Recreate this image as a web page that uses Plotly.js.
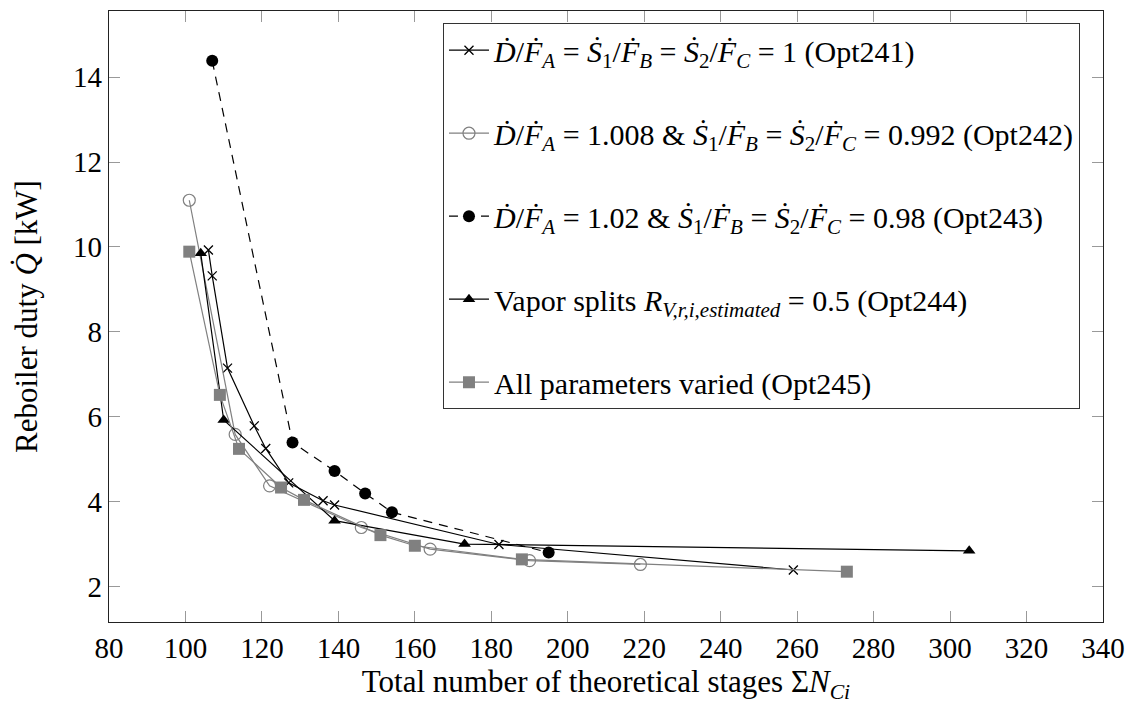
<!DOCTYPE html>
<html><head><meta charset="utf-8">
<script src="https://cdn.plot.ly/plotly-3.0.1.min.js"></script>
<style>html,body{margin:0;padding:0;background:#fff}</style>
</head><body><div id="chart" style="width:1132px;height:704px"></div>
<script>
// Opt241: D/FA = S1/FB = S2/FC = 1
const opt241_x = [106, 107, 111, 118, 121, 127, 136, 139, 182, 259];
const opt241_y = [9.93, 9.32, 7.15, 5.79, 5.26, 4.45, 4.03, 3.93, 3.00, 2.40];
// Opt242: D/FA = 1.008 & S1/FB = S2/FC = 0.992
const opt242_x = [101, 113, 122, 146, 164, 190, 219];
const opt242_y = [11.10, 5.59, 4.38, 3.40, 2.89, 2.62, 2.53];
// Opt243: D/FA = 1.02 & S1/FB = S2/FC = 0.98
const opt243_x = [107, 128, 139, 147, 154, 195];
const opt243_y = [14.38, 5.40, 4.73, 4.20, 3.76, 2.81];
// Opt244: vapor splits 0.5
const opt244_x = [104, 110, 139, 173, 305];
const opt244_y = [9.85, 5.93, 3.56, 3.01, 2.85];
// Opt245: all parameters varied
const opt245_x = [101, 109, 114, 125, 131, 151, 160, 188, 273];
const opt245_y = [9.89, 6.52, 5.25, 4.34, 4.05, 3.22, 2.97, 2.65, 2.36];

const xTickVals = [80, 100, 120, 140, 160, 180, 200, 220, 240, 260, 280, 300, 320, 340];
const yTickVals = [2, 4, 6, 8, 10, 12, 14];

const Dd = '<i>D\u0307</i>', Fd = '<i>F\u0307</i>', S1 = '<i>S\u0307</i><sub>1</sub>', S2 = '<i>S\u0307</i><sub>2</sub>';
const fA = Dd + '/' + Fd + '<sub><i>A</i></sub>';
const fB1 = S1 + '/' + Fd + '<sub><i>B</i></sub>';
const fC2 = S2 + '/' + Fd + '<sub><i>C</i></sub>';
const names = [
  fA + ' = ' + fB1 + ' = ' + fC2 + ' = 1 (Opt241)',
  fA + ' = 1.008 &amp; ' + fB1 + ' = ' + fC2 + ' = 0.992 (Opt242)',
  fA + ' = 1.02 &amp; ' + fB1 + ' = ' + fC2 + ' = 0.98 (Opt243)',
  'Vapor splits <i>R</i><sub><i>V,r,i,estimated</i></sub> = 0.5 (Opt244)',
  'All parameters varied (Opt245)'
];

const gray = '#808080';
const traces = [
  {x: opt241_x, y: opt241_y, name: names[0], legendgroup: 'a', mode: 'lines+markers',
   line: {color: '#000', width: 1.2}, marker: {symbol: 'x-thin-open', size: 9, color: '#000', line: {width: 1.3, color: '#000'}}},
  {x: opt242_x, y: opt242_y, name: names[1], legendgroup: 'b', mode: 'lines+markers',
   line: {color: gray, width: 1.2}, marker: {symbol: 'circle-open', size: 12, color: gray, line: {width: 1.2, color: gray}}},
  {x: opt243_x, y: opt243_y, name: names[2], legendgroup: 'c', mode: 'lines+markers',
   line: {color: '#000', width: 1.2, dash: '9px,7px'}, marker: {symbol: 'circle', size: 12, color: '#000'}},
  {x: opt244_x, y: opt244_y, name: names[3], legendgroup: 'd', mode: 'lines+markers',
   line: {color: '#000', width: 1.2}, marker: {symbol: 'triangle-up', size: 11, color: '#000'}},
  {x: opt245_x, y: opt245_y, name: names[4], legendgroup: 'e', mode: 'lines+markers',
   line: {color: gray, width: 1.2}, marker: {symbol: 'square', size: 12, color: gray}}
];

const F = 'Liberation Serif, DejaVu Serif, serif';
const layout = {
  width: 1132, height: 704,
  margin: {l: 109, r: 29, t: 11, b: 82},
  paper_bgcolor: '#fff', plot_bgcolor: '#fff',
  font: {family: F, size: 29, color: '#000'},
  showlegend: true,
  legend: {x: 0.336, y: 0.98, xanchor: 'left', yanchor: 'top', bgcolor: '#fff',
    bordercolor: '#333', borderwidth: 1, font: {family: F, size: 30, color: '#000'},
    traceorder: 'grouped', tracegroupgap: 41, itemwidth: 40},
  xaxis: {range: [80, 340], tickvals: xTickVals, ticks: 'inside', ticklen: 11, tickcolor: '#999', tickwidth: 1,
    showline: true, linecolor: '#222', linewidth: 1.3, mirror: 'ticks', showgrid: false, zeroline: false,
    tickfont: {family: F, size: 29, color: '#000'},
    title: {text: 'Total number of theoretical stages Σ<i>N</i><sub><i>Ci</i></sub>', font: {family: F, size: 31, color: '#000'}, standoff: 6}},
  yaxis: {range: [1.176, 15.553], tickvals: yTickVals, ticks: 'inside', ticklen: 11, tickcolor: '#999', tickwidth: 1,
    showline: true, linecolor: '#222', linewidth: 1.3, mirror: 'ticks', showgrid: false, zeroline: false,
    tickfont: {family: F, size: 29, color: '#000'},
    title: {text: 'Reboiler duty <i>Q\u0307</i> [kW]', font: {family: F, size: 31, color: '#000'}, standoff: 26}}
};
Plotly.newPlot('chart', traces, layout, {displayModeBar: false, staticPlot: true});
</script></body></html>
